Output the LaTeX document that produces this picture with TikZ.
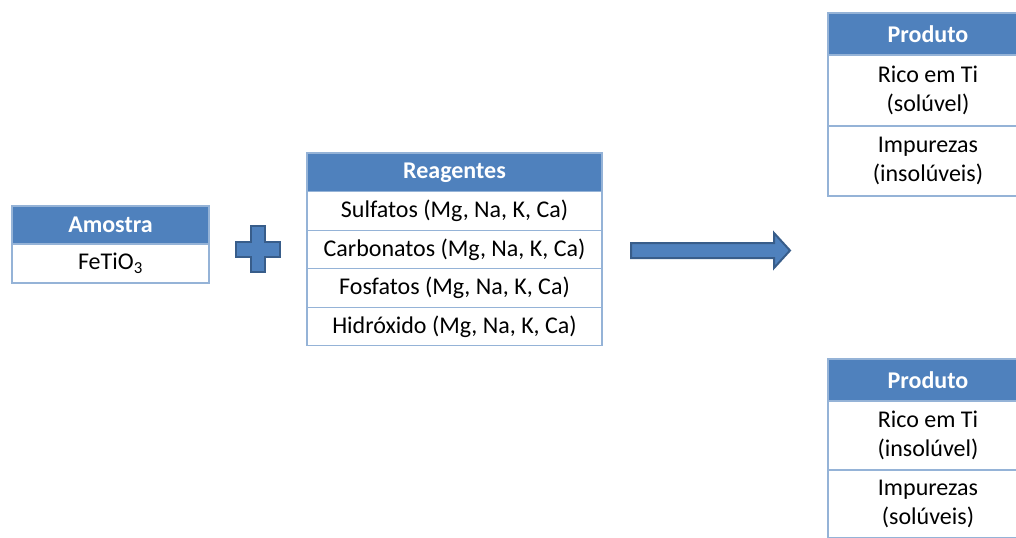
\documentclass[tikz,border=0pt]{standalone}
\usepackage{fontspec}
\setmainfont{Carlito}
\usepackage{xcolor}
\definecolor{hdrblue}{RGB}{79,129,189}
\definecolor{edgeblue}{RGB}{149,179,215}
\definecolor{darkedge}{RGB}{56,93,138}
\usepackage{tikz}

\begin{document}
\begin{tikzpicture}[x=0.75pt, y=-0.75pt,
    cell/.style={draw=edgeblue, fill=white, line width=1pt, inner sep=0pt, align=center,
                 font=\fontsize{18}{21.75}\selectfont, text=black},
    hdr/.style={cell, fill=hdrblue, text=white, font=\fontsize{18}{21.75}\selectfont\bfseries},
    blockshape/.style={fill=hdrblue, draw=darkedge, line width=1.5pt, line join=miter}]
                % Fix the page to the size of the reference
                \useasboundingbox (0,0) rectangle (1016,538);
                \clip (0,0) rectangle (1016,538);
                % Sample table
                \node[hdr, minimum width=147.75pt, minimum height=28.5pt] (amhead) at (110.5,225) {Amostra};
                \node[cell, minimum width=147.75pt, minimum height=29.25pt] (amrow) at (110.5,263.5) {FeTiO\textsubscript{3}};
                % Plus sign
                \filldraw[blockshape] (251,226) -- (265,226) -- (265,242) -- (280,242) -- (280,257) -- (265,257)
                    -- (265,272) -- (251,272) -- (251,257) -- (236,257) -- (236,242) -- (251,242) -- cycle;
                % Reagents table
                \node[hdr, minimum width=221.25pt, minimum height=29.25pt] (rghead) at (454.5,172.5) {Reagentes};
                \node[cell, minimum width=221.25pt, minimum height=28.875pt] (rgsulf) at (454.5,211) {Sulfatos (Mg, Na, K, Ca)};
                \node[cell, minimum width=221.25pt, minimum height=28.875pt] (rgcarb) at (454.5,249.5) {Carbonatos (Mg, Na, K, Ca)};
                \node[cell, minimum width=221.25pt, minimum height=28.875pt] (rgfosf) at (454.5,288) {Fosfatos (Mg, Na, K, Ca)};
                \node[cell, minimum width=221.25pt, minimum height=28.875pt] (rghidr) at (454.5,326.5) {Hidróxido (Mg, Na, K, Ca)};
                % Block arrow
                \filldraw[blockshape] (631,243) -- (774,243) -- (774,233) -- (790,250.5) -- (774,268) -- (774,258)
                    -- (631,258) -- cycle;
                % Product tables
                \node[hdr, minimum width=150pt, minimum height=31.5pt] (pdhead1) at (928,34) {Produto};
                \node[cell, minimum width=150pt, minimum height=53.25pt] (pdrich1) at (928,90.5) {Rico em Ti\\(solúvel)};
                \node[cell, minimum width=150pt, minimum height=52.5pt] (pdimp1) at (928,161) {Impurezas\\(insolúveis)};
                \node[hdr, minimum width=150pt, minimum height=31.5pt] (pdhead2) at (928,380) {Produto};
                \node[cell, minimum width=150pt, minimum height=51.75pt] (pdrich2) at (928,435.5) {Rico em Ti\\(insolúvel)};
                \node[cell, minimum width=150pt, minimum height=51pt] (pdimp2) at (928,504) {Impurezas\\(solúveis)};
        \end{tikzpicture}
\end{document}
